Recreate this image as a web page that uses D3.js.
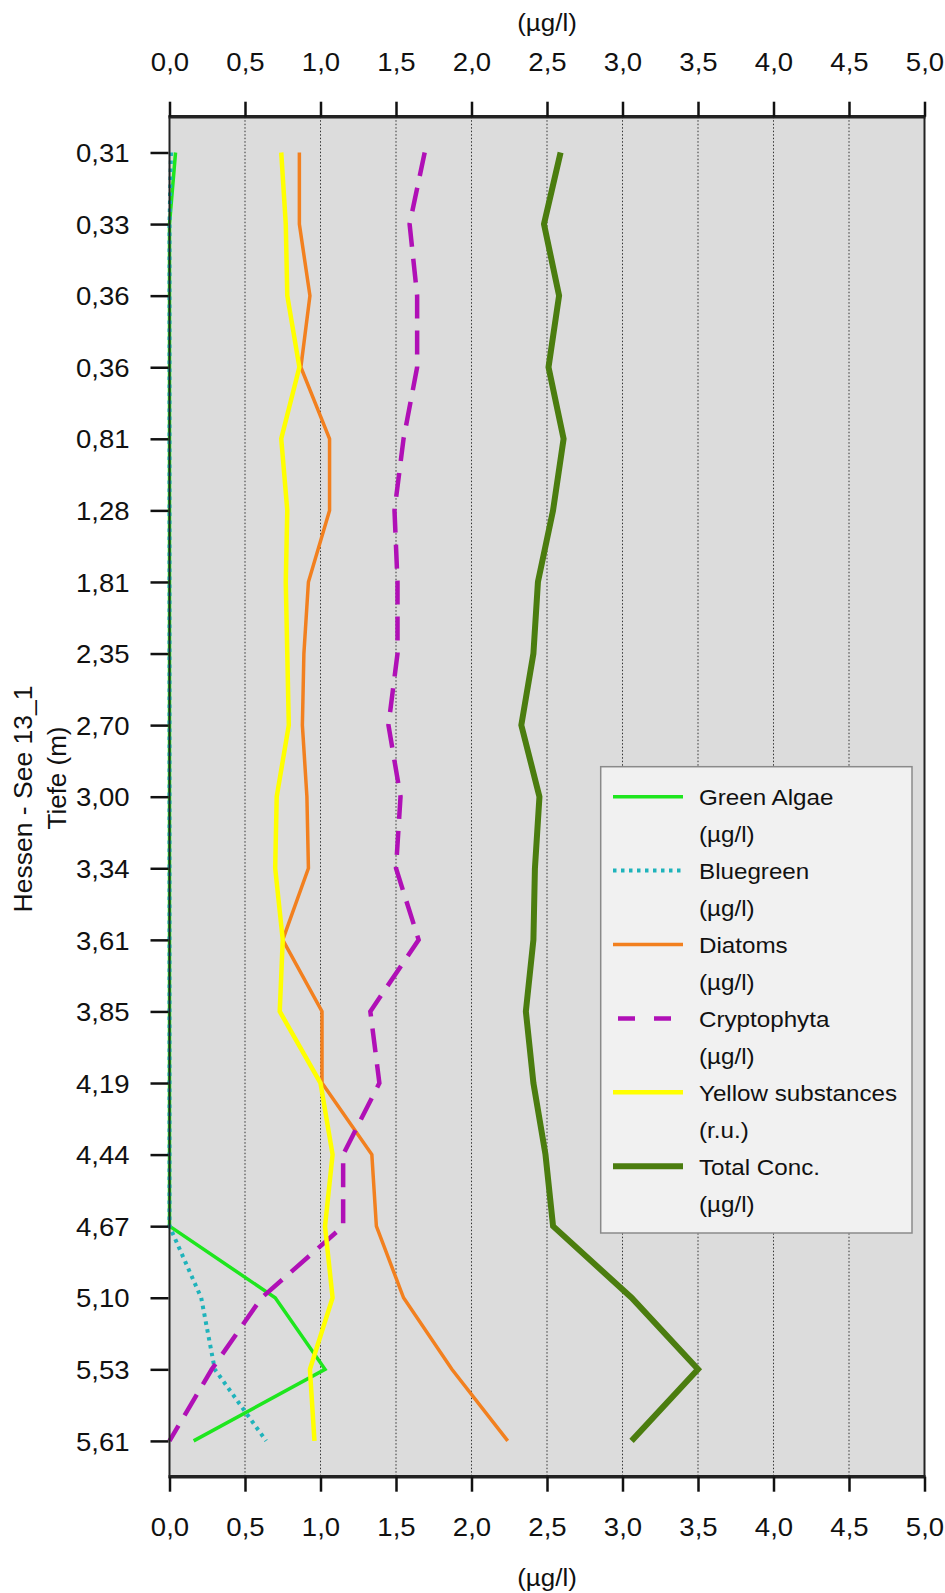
<!DOCTYPE html>
<html>
<head>
<meta charset="utf-8">
<script src="https://cdn.jsdelivr.net/npm/d3@7"></script>
<style>
  html, body { margin: 0; padding: 0; background: #ffffff; }
  svg { display: block; }
  text { font-family: "Liberation Sans", Arial, sans-serif; fill: #111; }
</style>
</head>
<body>
<svg id="chart" width="945" height="1593"></svg>
<script>
// Depth profile (categorical depth steps, top to bottom)
const depths = ["0,31","0,33","0,36","0,36","0,81","1,28","1,81","2,35","2,70","3,00",
                "3,34","3,61","3,85","4,19","4,44","4,67","5,10","5,53","5,61"];

// Concentrations per depth step
const greenAlgae  = [0.04,0,0,0,0,0,0,0,0,0,0,0,0,0,0,0,0.70,1.03,0.16];
const bluegreen   = [0.01,0,0,0,0,0,0,0,0,0,0,0,0,0,0,0,0.21,0.30,0.64];
const diatoms     = [0.86,0.86,0.93,0.87,1.06,1.06,0.92,0.89,0.88,0.91,0.92,0.75,1.01,1.01,1.34,1.37,1.55,1.87,2.24];
const cryptophyta = [1.69,1.59,1.64,1.64,1.55,1.49,1.51,1.51,1.45,1.53,1.50,1.65,1.33,1.39,1.15,1.15,0.61,0.28,0.00];
const yellowSubst = [0.74,0.77,0.78,0.86,0.74,0.78,0.77,0.78,0.79,0.71,0.70,0.75,0.73,1.00,1.08,1.03,1.08,0.93,0.96];
const totalConc   = [2.59,2.48,2.58,2.51,2.61,2.54,2.44,2.41,2.33,2.45,2.42,2.41,2.36,2.41,2.49,2.54,3.06,3.50,3.06];

const xTicks = [0,0.5,1,1.5,2,2.5,3,3.5,4,4.5,5];

const seriesNames = ["Green Algae","Bluegreen","Diatoms","Cryptophyta","Yellow substances","Total Conc."];
const seriesUnits = ["(µg/l)","(µg/l)","(µg/l)","(µg/l)","(r.u.)","(µg/l)"];

const series = [
  {name: seriesNames[0], unit: seriesUnits[0], values: greenAlgae,  color: "#1ee61e", width: 3.5, dash: null},
  {name: seriesNames[1], unit: seriesUnits[1], values: bluegreen,   color: "#1fb3bb", width: 4,   dash: "3.5,4.5"},
  {name: seriesNames[2], unit: seriesUnits[2], values: diatoms,     color: "#f2801f", width: 3.5, dash: null},
  {name: seriesNames[3], unit: seriesUnits[3], values: cryptophyta, color: "#b010b6", width: 4.5, dash: "24,12"},
  {name: seriesNames[4], unit: seriesUnits[4], values: yellowSubst, color: "#ffff00", width: 4.5, dash: null},
  {name: seriesNames[5], unit: seriesUnits[5], values: totalConc,   color: "#4b7d0f", width: 6,   dash: null}
];

const svg = d3.select("#chart");
const SX = 1.08; // horizontal text stretch

const plot = {left: 169.5, right: 924.5, top: 116.7, bottom: 1476.7};

const x = d3.scaleLinear().domain([0, 5]).range([plot.left, plot.right]);
const y = d3.scalePoint().domain(d3.range(depths.length)).range([plot.top, plot.bottom]).padding(0.5);

// plot background
svg.append("rect")
  .attr("x", plot.left).attr("y", plot.top)
  .attr("width", plot.right - plot.left).attr("height", plot.bottom - plot.top)
  .attr("fill", "#dcdcdc");

// dotted vertical grid
svg.append("g").selectAll("line")
  .data(xTicks.filter(t => t > 0 && t < 5))
  .join("line")
  .attr("x1", d => x(d)).attr("x2", d => x(d))
  .attr("y1", plot.top).attr("y2", plot.bottom)
  .attr("stroke", "#333").attr("stroke-width", 1).attr("stroke-dasharray", "1.5,2");

// legend box (opaque, sits above grid)
const lg = {x: 600.7, y: 766.7, w: 311.3, h: 466.3, rowY: 796.7, step: 73.9};
svg.append("rect")
  .attr("x", lg.x).attr("y", lg.y).attr("width", lg.w).attr("height", lg.h)
  .attr("fill", "#f1f1f1").attr("stroke", "#8a8a8a").attr("stroke-width", 1.5);

// data lines
const line = d3.line()
  .x(d => x(d.v))
  .y(d => y(d.i));

svg.append("g").selectAll("path")
  .data(series)
  .join("path")
  .attr("d", s => line(s.values.map((v, i) => ({v, i}))))
  .attr("fill", "none")
  .attr("stroke", s => s.color)
  .attr("stroke-width", s => s.width)
  .attr("stroke-linejoin", "miter")
  .attr("stroke-dasharray", s => s.dash);

// frame
svg.append("rect")
  .attr("x", plot.left).attr("y", plot.top)
  .attr("width", plot.right - plot.left).attr("height", plot.bottom - plot.top)
  .attr("fill", "none").attr("stroke", "#222").attr("stroke-width", 2);
svg.append("line").attr("x1", plot.left - 1).attr("x2", plot.right + 1)
  .attr("y1", plot.top).attr("y2", plot.top).attr("stroke", "#222").attr("stroke-width", 3.5);
svg.append("line").attr("x1", plot.left - 1).attr("x2", plot.right + 1)
  .attr("y1", plot.bottom).attr("y2", plot.bottom).attr("stroke", "#222").attr("stroke-width", 3.5);

const fmtX = d => d3.format(".1f")(d).replace(".", ",");

function styleAxis(g) {
  g.select(".domain").remove();
  g.selectAll(".tick line").attr("stroke", "#111").attr("stroke-width", 2.5);
  g.selectAll(".tick text")
    .attr("font-family", "'Liberation Sans', Arial, sans-serif")
    .attr("font-size", 25.5).attr("fill", "#111");
}

// top axis
const gTop = svg.append("g").attr("transform", `translate(0,${plot.top})`)
  .call(d3.axisTop(x).tickValues(xTicks).tickFormat(fmtX).tickSize(15).tickPadding(0));
styleAxis(gTop);
gTop.selectAll(".tick text").attr("x", 0).attr("y", -46).attr("dy", 0)
  .attr("transform", `scale(${SX},1)`);

// bottom axis
const gBot = svg.append("g").attr("transform", `translate(0,${plot.bottom})`)
  .call(d3.axisBottom(x).tickValues(xTicks).tickFormat(fmtX).tickSize(15).tickPadding(0));
styleAxis(gBot);
gBot.selectAll(".tick text").attr("x", 0).attr("y", 59.5).attr("dy", 0)
  .attr("transform", `scale(${SX},1)`);

// left axis (depth)
const gLeft = svg.append("g").attr("transform", `translate(${plot.left - 1},0)`)
  .call(d3.axisLeft(y).tickFormat(i => depths[i]).tickSize(18).tickPadding(0));
styleAxis(gLeft);
gLeft.selectAll(".tick text").attr("x", -39 / SX).attr("dy", "0.36em")
  .attr("transform", `scale(${SX},1)`);

// axis titles
function stretchedText(px, py, str, size, anchor) {
  return svg.append("text")
    .attr("transform", `translate(${px},${py}) scale(${SX},1)`)
    .attr("text-anchor", anchor || "middle")
    .attr("font-size", size)
    .text(str);
}
stretchedText(547, 31, "(µg/l)", 24);
stretchedText(547, 1586, "(µg/l)", 24);

svg.append("text")
  .attr("transform", "translate(32,799) rotate(-90)")
  .attr("text-anchor", "middle").attr("font-size", 26.5)
  .text("Hessen - See 13_1");
svg.append("text")
  .attr("transform", "translate(66,778) rotate(-90)")
  .attr("text-anchor", "middle").attr("font-size", 26)
  .text("Tiefe (m)");

// legend entries
const lgRows = svg.append("g").selectAll("g")
  .data(series)
  .join("g")
  .attr("transform", (s, i) => `translate(0,${lg.rowY + i * lg.step})`);

lgRows.append("line")
  .attr("x1", (s) => s.dash === "24,12" ? 618 : 613).attr("x2", 683)
  .attr("y1", 0).attr("y2", 0)
  .attr("stroke", s => s.color)
  .attr("stroke-width", s => s.width)
  .attr("stroke-dasharray", s => s.dash === "24,12" ? "17,19" : s.dash);

lgRows.append("text")
  .attr("transform", `translate(699,8.5) scale(1.1,1)`)
  .attr("font-size", 22)
  .text(s => s.name);
lgRows.append("text")
  .attr("transform", `translate(699,45.5) scale(1.1,1)`)
  .attr("font-size", 22)
  .text(s => s.unit);
</script>
</body>
</html>
